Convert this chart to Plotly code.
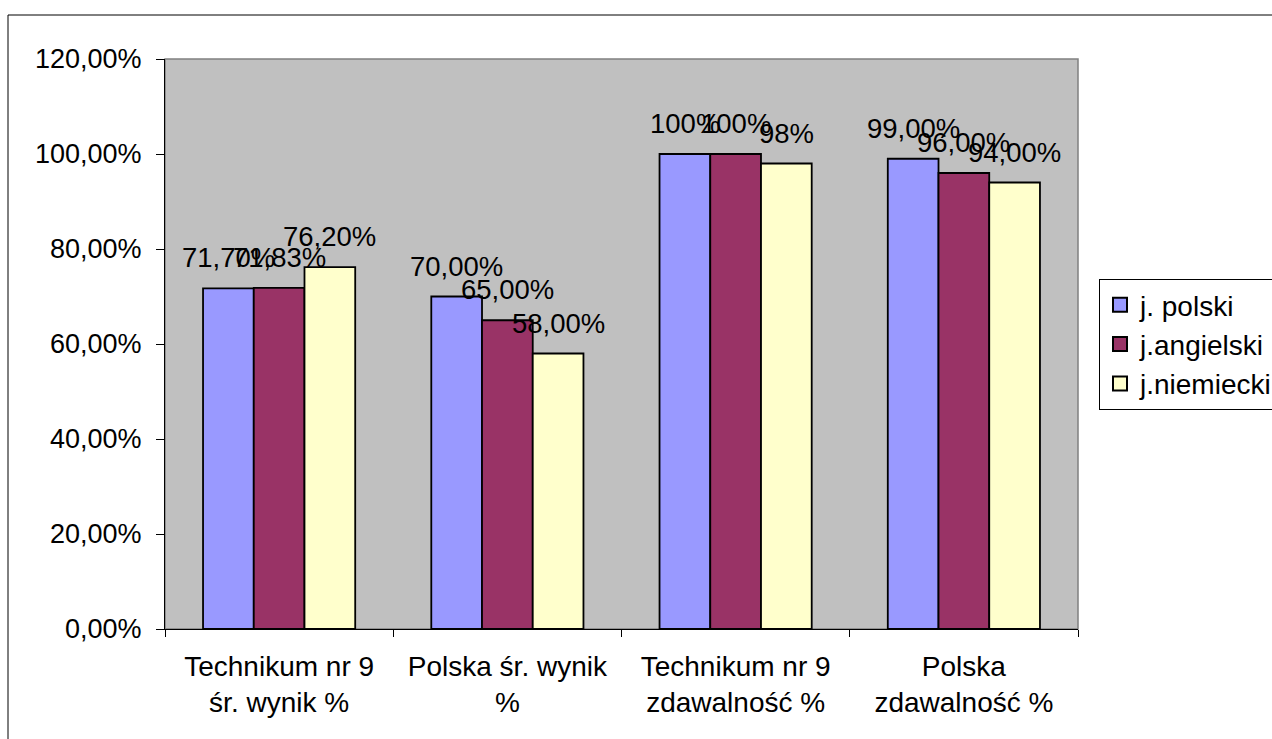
import plotly.graph_objects as go

categories = ["Technikum nr 9<br>śr. wynik %", "Polska śr. wynik<br>%",
              "Technikum nr 9<br>zdawalność %", "Polska<br>zdawalność %"]
series_names = ["j. polski", "j.angielski", "j.niemiecki"]
polski = [0.717, 0.70, 1.00, 0.99]
angielski = [0.7183, 0.65, 1.00, 0.96]
niemiecki = [0.762, 0.58, 0.98, 0.94]
polski_labels = ["71,70%", "70,00%", "100%", "99,00%"]
angielski_labels = ["71,83%", "65,00%", "100%", "96,00%"]
niemiecki_labels = ["76,20%", "58,00%", "98%", "94,00%"]
y_ticks = [0, 0.2, 0.4, 0.6, 0.8, 1.0, 1.2]

values = [polski, angielski, niemiecki]
labels = [polski_labels, angielski_labels, niemiecki_labels]
colors = ["#9999FF", "#993366", "#FFFFCC"]

FONT = "Liberation Sans, Arial, sans-serif"
BARGAP = 1 / 3

fig = go.Figure()
for k, (name, vals, col) in enumerate(zip(series_names, values, colors)):
    fig.add_trace(go.Bar(
        name=name, x=categories, y=vals, legendgroup=f"g{k}", showlegend=False,
        marker=dict(color=col, line=dict(color="black", width=1.8)),
    ))
# legend entries: square keys with heavy outline (as in the reference)
for k, (name, col) in enumerate(zip(series_names, colors)):
    fig.add_trace(go.Scatter(
        name=name, x=[None], y=[None], mode="markers", legendgroup=f"g{k}",
        marker=dict(symbol="square", size=14, color=col,
                    line=dict(color="black", width=2)),
        showlegend=True, hoverinfo="skip",
    ))

# data labels above each bar
nser = len(series_names)
w = (1 - BARGAP) / nser
annotations = []
for j, (vals, labs) in enumerate(zip(values, labels)):
    for i, (v, t) in enumerate(zip(vals, labs)):
        annotations.append(dict(
            x=i + (j - (nser - 1) / 2) * w, y=v, xref="x", yref="y",
            text=t, showarrow=False, yanchor="bottom", xanchor="center",
            yshift=13, font=dict(family=FONT, size=27.5, color="black"),
        ))

# plot-area geometry in pixels (for outer frame)
W, H = 1272, 739
L, R, T, B = 165, 1078, 59, 629
pw, ph = R - L, B - T

fig.update_layout(
    width=W, height=H,
    margin=dict(l=L, r=W - R, t=T, b=H - B, pad=0),
    paper_bgcolor="white", plot_bgcolor="#C0C0C0",
    separators=", ",
    font=dict(family=FONT, size=27, color="black"),
    barmode="group", bargap=BARGAP, bargroupgap=0,
    showlegend=True,
    legend=dict(
        xref="container", yref="container",
        x=1099 / W, y=1 - 279 / H, xanchor="left", yanchor="top",
        bgcolor="white", bordercolor="black", borderwidth=1,
        font=dict(family=FONT, size=28, color="black"),
        tracegroupgap=4.5, traceorder="normal",
    ),
    annotations=annotations,
    shapes=[
        dict(type="rect", xref="paper", yref="paper",
             x0=(8 - L) / pw, x1=(1300 - L) / pw,
             y0=(B - 780) / ph, y1=(B - 15) / ph,
             line=dict(color="black", width=1), fillcolor="rgba(0,0,0,0)",
             layer="below"),
        dict(type="rect", xref="paper", yref="paper", x0=0, x1=1, y0=0, y1=1,
             line=dict(color="#808080", width=1.5), fillcolor="rgba(0,0,0,0)",
             layer="below"),
    ],
)

fig.update_yaxes(
    range=[0, 1.2], tickvals=y_ticks, tickformat=".2%",
    ticks="outside", ticklen=8, tickcolor="black", tickwidth=1,
    showgrid=False, zeroline=False,
    showline=True, linecolor="black", linewidth=1,
    ticklabelstandoff=9,
    tickfont=dict(family=FONT, size=27, color="black"),
)
fig.update_xaxes(
    tickson="boundaries", ticks="outside", ticklen=7, tickcolor="black",
    showgrid=False, zeroline=False,
    showline=True, linecolor="black", linewidth=1,
    tickfont=dict(family=FONT, size=28, color="black"),
    ticklabelstandoff=12,
)

fig.write_html("out.html", config={"displayModeBar": False},
               post_script="document.body.style.margin='0';")
